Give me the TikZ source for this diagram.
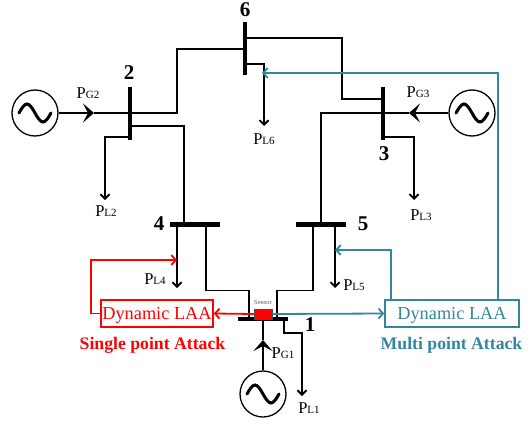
\documentclass[tikz,border=0pt]{standalone}
\usepackage{fontspec}
\setmainfont{Liberation Serif}
\definecolor{AttackRed}{RGB}{255, 0, 0}
\definecolor{AttackTeal}{RGB}{50, 135, 158}
\usetikzlibrary{arrows.meta, positioning, calc}
\newcommand{\powerlbl}[1]{{\fontsize{16.5}{16.5}\selectfont P\fontsize{11}{11}\selectfont #1}}
\tikzset{
  hbus/.style={fill=black, inner sep=0pt, minimum width=50pt, minimum height=4.5pt},
  vbus/.style={fill=black, inner sep=0pt, minimum width=4.5pt, minimum height=53pt},
  gensource/.style={circle, draw, line width=1.3pt, inner sep=0pt, minimum size=46pt, path picture={
    \draw[line width=3pt, line cap=round] ([xshift=-16pt]path picture bounding box.center) sin ++(8pt,9pt) cos ++(8pt,-9pt) sin ++(8pt,-9pt) cos ++(8pt,9pt);}},
  busno/.style={font=\bfseries\fontsize{21}{21}\selectfont, inner sep=0pt},
  powerno/.style={inner sep=0pt},
  laabox/.style={draw, line width=1.6pt, inner sep=0pt, minimum height=27pt, text depth=0pt, font=\fontsize{18.3}{18.3}\selectfont},
  attackno/.style={inner sep=0pt, font=\bfseries\fontsize{17.7}{17.7}\selectfont},
  tline/.style={line width=1.8pt, line join=miter},
  tload/.style={tline, -{Straight Barb[length=4.5pt, width=9pt]}},
  tgen/.style={line width=2pt, -{Stealth[length=11pt, width=19pt, inset=5pt]}},
  redline/.style={AttackRed, line width=1.8pt, -{Straight Barb[length=4.5pt, width=10pt]}},
  tealline/.style={AttackTeal, line width=1.8pt, -{Straight Barb[length=4.5pt, width=10pt]}}
}
\begin{document}
\begin{tikzpicture}[x=1pt, y=-1pt]
\useasboundingbox (0,0) rectangle (530,423);
% buses
\node[hbus] (bus1) at (263,319) {};
\node[vbus] (bus2) at (130,113) {};
\node[vbus] (bus3) at (383,113) {};
\node[hbus] (bus4) at (195,224.5) {};
\node[hbus] (bus5) at (321,224.5) {};
\node[vbus] (bus6) at (245,48.5) {};
\node[busno] (n1) at (310,325) {1};
\node[busno] (n2) at (129,73) {2};
\node[busno] (n3) at (384,154) {3};
\node[busno] (n4) at (159,224) {4};
\node[busno] (n5) at (363,224) {5};
\node[busno] (n6) at (245,10) {6};
% generators
\node[gensource] (gen1) at (263,394) {};
\node[gensource] (gen2) at (35,113) {};
\node[gensource] (gen3) at (472,113) {};
\coordinate (tipG1) at (263,340);
\coordinate (tipG2) at (94,113);
\coordinate (tipG3) at (409,113);
\draw[tgen] (gen1) -- (tipG1);
\draw[tgen] (gen2) -- (tipG2);
\draw[tgen] (gen3) -- (tipG3);
\draw[line width=2pt] (tipG1) -- (bus1);
\draw[line width=2pt] (tipG2) -- (bus2);
\draw[line width=2pt] (tipG3) -- (bus3);
\node[powerno] (pg1) at (283,353) {\powerlbl{G1}};
\node[powerno] (pg2) at (88,93) {\powerlbl{G2}};
\node[powerno] (pg3) at (418,92) {\powerlbl{G3}};
% lines
\draw[tline] (bus2) -- (177,113) |- ([yshift=-0.5pt]bus6.center);
\draw[tline] ([yshift=10.5pt]bus6.center) -| (342,99) -- ([yshift=14pt]bus3.center);
\draw[tline] ([yshift=-13pt]bus2.center) -| (184,224.5);
\draw[tline] (bus3) -| (321,224.5);
\draw[tline] (206,224.5) |- (249,290.5) -- (249,319);
\draw[tline] (313,224.5) |- (277,290.5) -- (277,319);
% loads
\node[powerno] (pl1) at (309,408) {\powerlbl{L1}};
\node[powerno] (pl2) at (106,211) {\powerlbl{L2}};
\node[powerno] (pl3) at (421,215) {\powerlbl{L3}};
\node[powerno] (pl4) at (155,279) {\powerlbl{L4}};
\node[powerno] (pl5) at (354,285) {\powerlbl{L5}};
\node[powerno] (pl6) at (264,139) {\powerlbl{L6}};
\coordinate (load1) at (302,396);
\coordinate (load2) at (105,200);
\coordinate (load3) at (414,200);
\coordinate (load4) at (177,288);
\coordinate (load5) at (335,288);
\coordinate (load6) at (264,126);
\draw[tload] (284,319) |- (302,333) -- (load1);
\draw[tload] ([yshift=-24pt]bus2.center) -| (load2);
\draw[tload] ([yshift=-24pt]bus3.center) -| (load3);
\draw[tload] (177,224.5) -- (load4);
\draw[tload] (335,224.5) -- (load5);
\draw[tload] ([yshift=-15.5pt]bus6.center) -| (load6);
% attack
\node[fill=AttackRed, draw=black!70, line width=0.5pt, inner sep=0pt, minimum width=18pt, minimum height=10pt] (sensor) at (263,314) {};
\node[inner sep=0pt, text=black!65, font=\fontsize{6.5}{6.5}\selectfont] (sensorlbl) at (263,302) {Sensor};
\node[laabox, draw=AttackRed, text=AttackRed, minimum width=112pt] (laa1) at (157,313.5) {Dynamic LAA};
\node[laabox, draw=AttackTeal, text=AttackTeal, minimum width=134pt] (laa2) at (452,313.5) {Dynamic LAA};
\node[attackno, text=AttackRed] (att1) at (152.5,345) {Single point Attack};
\node[attackno, text=AttackTeal] (att2) at (451.5,345) {Multi point Attack};
\coordinate (hit4) at (177,260);
\coordinate (hit5) at (335,250);
\coordinate (hit6) at (262,73);
\draw[redline] (sensor.west) -- (laa1.east);
\draw[redline] (laa1.west) -| (91,260) -- (hit4);
\draw[tealline] (sensor.east) -- (laa2.west);
\draw[tealline] (391,300) |- (hit5);
\draw[tealline] (498,300) |- (hit6);
\end{tikzpicture}
\end{document}
